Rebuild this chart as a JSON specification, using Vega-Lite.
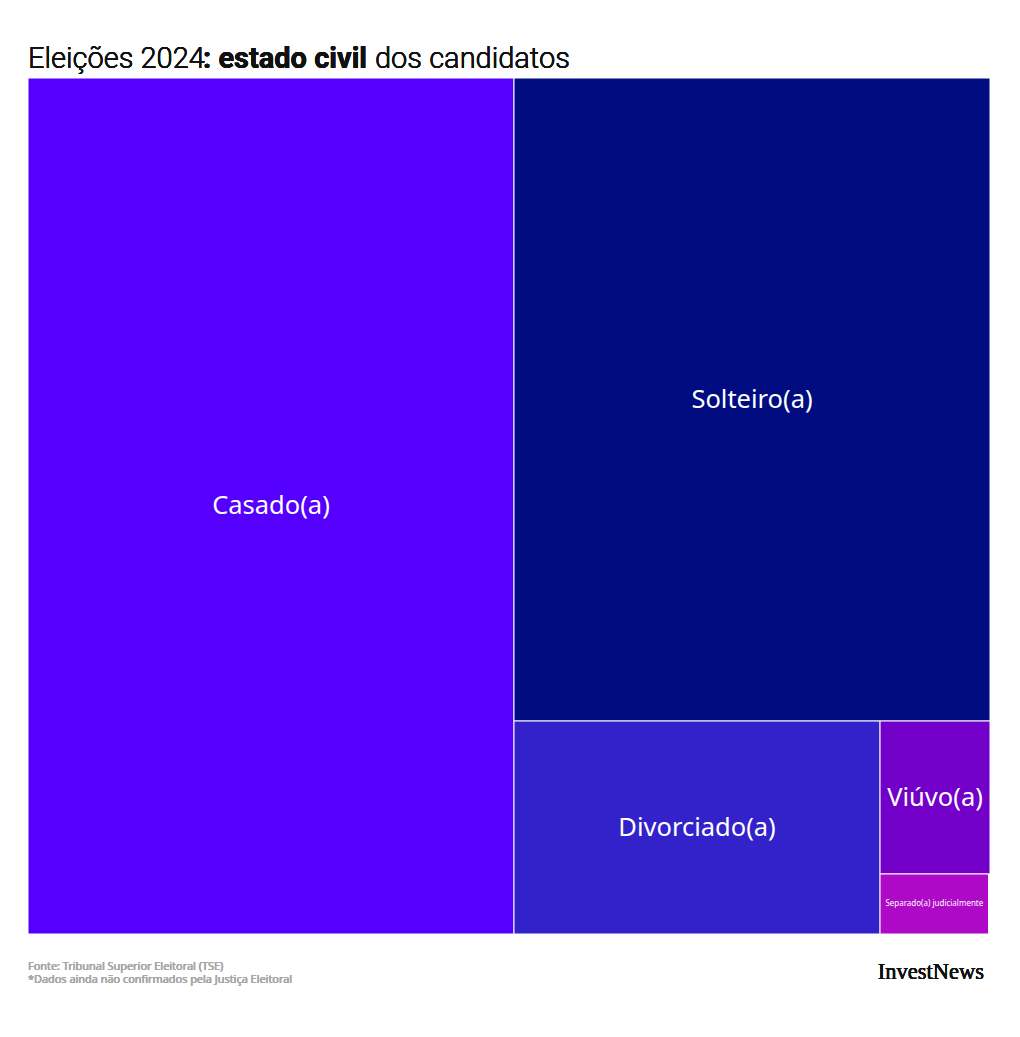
{
  "$schema": "https://vega.github.io/schema/vega-lite/v6.json",
  "width": 962,
  "height": 856,
  "autosize": "none",
  "padding": {"left": 28, "top": 78, "right": 30, "bottom": 103},
  "background": "#ffffff",
  "config": {"view": {"stroke": null}},
  "data": {
    "values": [
      {"estado": "Casado(a)", "pct": 50.5, "x0": 0, "x1": 50.52, "y0": 0, "y1": 100},
      {"estado": "Solteiro(a)", "pct": 37.2, "x0": 50.52, "x1": 100, "y0": 0, "y1": 75.12},
      {"estado": "Divorciado(a)", "pct": 9.5, "x0": 50.52, "x1": 88.57, "y0": 75.12, "y1": 100},
      {"estado": "Viúvo(a)", "pct": 2.0, "x0": 88.57, "x1": 100, "y0": 75.12, "y1": 92.99},
      {"estado": "Separado(a) judicialmente", "pct": 0.8, "x0": 88.57, "x1": 99.85, "y0": 92.99, "y1": 100}
    ]
  },
  "layer": [
    {
      "mark": {"type": "rect", "stroke": "#ffffff", "strokeWidth": 1},
      "encoding": {
        "x": {"field": "x0", "type": "quantitative", "scale": {"domain": [0, 100], "nice": false, "zero": false}, "axis": null},
        "x2": {"field": "x1"},
        "y": {"field": "y0", "type": "quantitative", "scale": {"domain": [0, 100], "nice": false, "zero": false, "reverse": true}, "axis": null},
        "y2": {"field": "y1"},
        "color": {
          "field": "estado", "type": "nominal", "legend": null,
          "scale": {
            "domain": ["Casado(a)", "Solteiro(a)", "Divorciado(a)", "Viúvo(a)", "Separado(a) judicialmente"],
            "range": ["#5500ff", "#000c7f", "#3322c9", "#7300c9", "#ad09c6"]
          }
        }
      }
    },
    {
      "transform": [
        {"calculate": "(datum.x0 + datum.x1) / 2", "as": "cx"},
        {"calculate": "(datum.y0 + datum.y1) / 2", "as": "cy"}
      ],
      "mark": {"type": "text", "font": "Noto Sans", "color": "#ffffff", "align": "center", "baseline": "middle"},
      "encoding": {
        "x": {"field": "cx", "type": "quantitative"},
        "y": {"field": "cy", "type": "quantitative"},
        "text": {"field": "estado"},
        "size": {"condition": {"test": "datum.estado == 'Separado(a) judicialmente'", "value": 8}, "value": 25.5}
      }
    },
    {
      "mark": {"type": "text", "font": "Roboto", "fontSize": 29, "fontWeight": 300, "color": "#111111", "align": "left", "baseline": "alphabetic", "dy": -10},
      "encoding": {"x": {"datum": 0}, "y": {"datum": 0}, "text": {"value": "Eleições 2024"}}
    },
    {
      "mark": {"type": "text", "font": "Roboto", "fontSize": 29, "fontWeight": "bold", "color": "#111111", "align": "left", "baseline": "alphabetic", "dy": -10, "dx": 175},
      "encoding": {"x": {"datum": 0}, "y": {"datum": 0}, "text": {"value": ": estado civil"}}
    },
    {
      "mark": {"type": "text", "font": "Roboto", "fontSize": 29, "fontWeight": 300, "color": "#111111", "align": "left", "baseline": "alphabetic", "dy": -10, "dx": 347},
      "encoding": {"x": {"datum": 0}, "y": {"datum": 0}, "text": {"value": "dos candidatos"}}
    },
    {
      "mark": {"type": "text", "font": "Noto Sans", "fontSize": 10.9, "fontWeight": "normal", "color": "#a8a8a8", "align": "left", "baseline": "alphabetic", "dy": 36, "lineHeight": 13},
      "encoding": {"x": {"datum": 0}, "y": {"datum": 100}, "text": {"value": ["Fonte: Tribunal Superior Eleitoral (TSE)", "*Dados ainda não confirmados pela Justiça Eleitoral"]}}
    },
    {
      "mark": {"type": "text", "font": "Liberation Serif", "fontSize": 22.5, "color": "#111111", "align": "right", "baseline": "alphabetic", "dy": 45, "dx": -6},
      "encoding": {"x": {"datum": 100}, "y": {"datum": 100}, "text": {"value": "InvestNews"}}
    }
  ]
}
